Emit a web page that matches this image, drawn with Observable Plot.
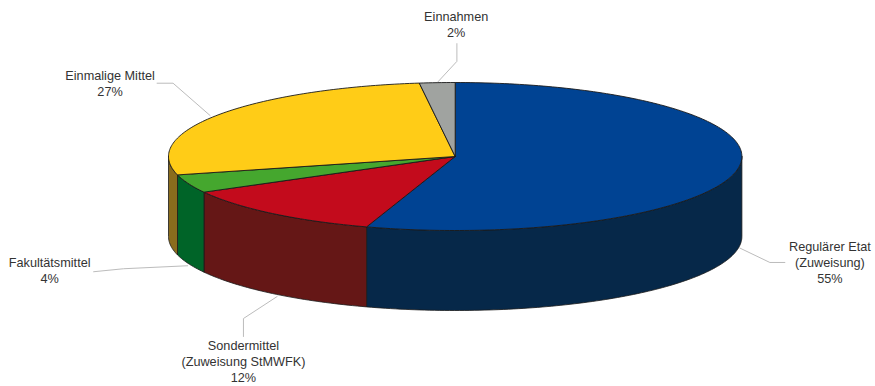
<!DOCTYPE html>
<html lang="de">
<head>
<meta charset="utf-8">
<title>Mittelherkunft</title>
<script src="https://cdn.jsdelivr.net/npm/d3@7"></script>
<script src="https://cdn.jsdelivr.net/npm/@observablehq/plot@0.6"></script>
<style>
  html, body { margin: 0; padding: 0; background: #fff; }
  svg { display: block; }
</style>
</head>
<body>
<div id="chart"></div>
<script>
// Budget shares, clockwise from twelve o'clock
const names = ["Regulärer Etat\n(Zuweisung)", "Sondermittel\n(Zuweisung StMWFK)", "Fakultätsmittel", "Einmalige Mittel", "Einnahmen"];
const shares = [55, 12, 4, 27, 2];
const topColors = ["#004393", "#c30b1c", "#45a72e", "#ffcc17", "#a0a3a0"];
const sideColors = ["#062849", "#651716", "#006428", "#8a6c1d", "#6e706e"];

// Leader and label placement, as offsets from each slice's rim point
const leaderOffsets = [
  [[1.5, 0], [31.5, 14.4], [46.5, 14.4]],
  [[4.7, 3], [-29, 25], [-29, 43]],
  [[-1, 2], [-65, 5], [-95, 8]],
  [[-8, 0.6], [-45, -31.7], [-61, -31.7]],
  [[0, 0], [19.7, -21.3], [19.7, -39]]
];
const labelOffsets = [[91.5, 13.4], [-29, 67.5], [-139, 6.5], [-108, -32.4], [19, -59]];

// Pie geometry: tilted ellipse plus extrusion depth
const width = 875, height = 386;
const cx = 454.7, cy = 156, rx = 286.7, ry = 74, depth = 80;
const rim = (deg, drop = 0) => {
  const a = deg * Math.PI / 180;
  return [cx + rx * Math.sin(a), cy - ry * Math.cos(a) + drop];
};
const arc = (from, to, drop = 0) => {
  const n = Math.max(2, Math.ceil(Math.abs(to - from)));
  return d3.range(n + 1).map(i => rim(from + (to - from) * i / n, drop));
};

const total = d3.sum(shares);
const bounds = d3.cumsum(shares).map(v => v / total * 360);
const slices = shares.map((v, i) => ({
  i,
  name: names[i],
  share: v,
  start: i ? bounds[i - 1] : 0,
  end: bounds[i],
  mid: ((i ? bounds[i - 1] : 0) + bounds[i]) / 2
}));

// Top sectors
const topPoints = slices.flatMap(s =>
  [[cx, cy], ...arc(s.start, s.end), [cx, cy]].map(([x, y]) => ({x, y, key: s.i, color: topColors[s.i]}))
);

// Outer wall: only the part of each slice facing the viewer (90° to 270°)
const sidePoints = slices.filter(s => s.end > 90 && s.start < 270).flatMap(s => {
  const a = Math.max(s.start, 90), b = Math.min(s.end, 270);
  return [...arc(a, b), ...arc(b, a, depth), rim(a)].map(([x, y]) => ({x, y, key: s.i, color: sideColors[s.i]}));
});

// The front-facing rim point each leader hangs from
const anchor = s => (s.mid > 90 && s.mid < 270) ? rim(s.mid, depth) : rim(s.mid);

const leaderPoints = slices.flatMap(s => {
  const [ax, ay] = anchor(s);
  return leaderOffsets[s.i].map(([dx, dy]) => ({x: ax + dx, y: ay + dy, key: s.i}));
});

const labels = slices.map(s => {
  const [ax, ay] = anchor(s);
  const [dx, dy] = labelOffsets[s.i];
  return {x: ax + dx, y: ay + dy, text: `${s.name}\n${s.share}%`};
});

const chart = Plot.plot({
  width,
  height,
  margin: 0,
  x: {domain: [0, width], range: [0, width], axis: null},
  y: {domain: [0, height], range: [0, height], axis: null},
  color: {type: "identity"},
  marks: [
    Plot.line(leaderPoints, {x: "x", y: "y", z: "key", stroke: "#bcbcbc", strokeWidth: 1, curve: "linear"}),
    Plot.line(sidePoints, {x: "x", y: "y", z: "key", fill: "color", stroke: "#1a1a1a", strokeWidth: 0.8, curve: "linear"}),
    Plot.line(topPoints, {x: "x", y: "y", z: "key", fill: "color", stroke: "#1a1a1a", strokeWidth: 0.9, curve: "linear"}),
    Plot.text(labels, {
      x: "x", y: "y", text: "text",
      fontFamily: "'Liberation Sans', Arial, sans-serif",
      fontSize: 12.7,
      lineHeight: 1.27,
      textAnchor: "middle",
      fill: "#333333"
    })
  ]
});
document.getElementById("chart").append(chart);
</script>
</body>
</html>
